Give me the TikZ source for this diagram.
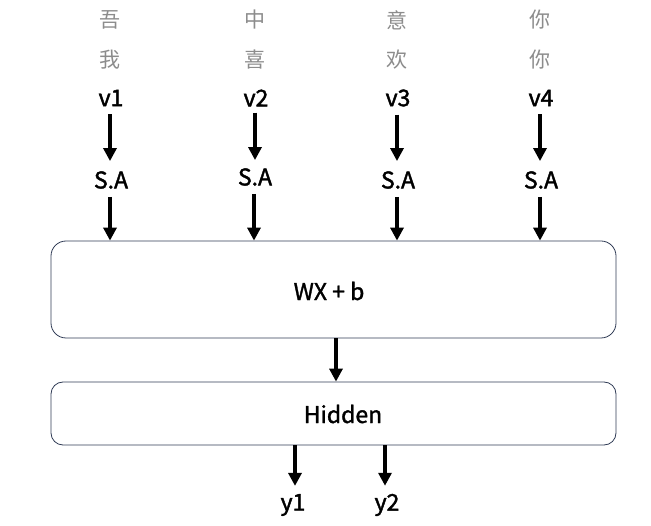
\documentclass[tikz,border=0pt]{standalone}
\usepackage{fontspec}
\setmainfont{Noto Sans CJK SC}
\newfontfamily\midfont[FakeBold=1.8]{Noto Sans CJK SC}
\newfontfamily\boxfont[FakeBold=1.4]{Noto Sans CJK SC}
\usetikzlibrary{arrows.meta}
\definecolor{boxline}{HTML}{2F3B55}
\definecolor{cngray}{HTML}{8C8C8C}
\tikzset{
  cn/.style={text=cngray, font=\fontsize{21}{23}\selectfont, inner sep=0pt},
  lbl/.style={font=\midfont\fontsize{23}{25}\selectfont, inner sep=0pt},
  boxtxt/.style={font=\boxfont\fontsize{23}{25}\selectfont, inner sep=0pt},
  arr/.style={line width=3.2pt, -{Triangle[width=13pt,length=13pt]}},
  rbox/.style={draw=boxline, line width=0.8pt, rounded corners=15pt, inner sep=0pt},
}
\begin{document}
\begin{tikzpicture}[x=1pt,y=-1pt]
\useasboundingbox (0,0) rectangle (651,526);
% Chinese characters
\node[cn] (c11) at (110,20) {吾};
\node[cn] (c12) at (110,60) {我};
\node[cn] (c21) at (255,20) {中};
\node[cn] (c22) at (255,60) {喜};
\node[cn] (c31) at (397,20) {意};
\node[cn] (c32) at (397,60) {欢};
\node[cn] (c41) at (540,20) {你};
\node[cn] (c42) at (540,60) {你};
% v labels
\node[lbl] (v1) at (111,98) {v1};
\node[lbl] (v2) at (256,98) {v2};
\node[lbl] (v3) at (398,98) {v3};
\node[lbl] (v4) at (541,98) {v4};
% S.A labels
\node[lbl] (s1) at (111,180) {S.A};
\node[lbl] (s2) at (255,177) {S.A};
\node[lbl] (s3) at (398,180) {S.A};
\node[lbl] (s4) at (541,180) {S.A};
% boxes
\node[rbox, minimum width=565pt, minimum height=97pt] (wx) at (333.5,289.5) {};
\node[boxtxt] (wxt) at (329,291) {WX + b};
\node[rbox, minimum width=565pt, minimum height=63pt, rounded corners=12pt] (hid) at (333.5,413.5) {};
\node[boxtxt] (hidt) at (343,414) {Hidden};
% outputs
\node[lbl] (y1) at (293,505) {y1};
\node[lbl] (y2) at (387,505) {y2};
% arrows v -> S.A
\draw[arr] ([yshift=-8pt]v1.south -| 110,0) -- ([yshift=10pt]s1.north -| 110,0);
\draw[arr] ([yshift=-6pt]v2.south -| 255,0) -- ([yshift=8pt]s2.north -| 255,0);
\draw[arr] ([yshift=-8pt]v3.south -| 397,0) -- ([yshift=10pt]s3.north -| 397,0);
\draw[arr] ([yshift=-8pt]v4.south -| 540,0) -- ([yshift=10pt]s4.north -| 540,0);
% arrows S.A -> box
\draw[arr] ([yshift=-8pt]s1.south -| 110,0) -- (wx.north -| 110,0);
\draw[arr] ([yshift=-8pt]s2.south -| 254,0) -- (wx.north -| 254,0);
\draw[arr] ([yshift=-8pt]s3.south -| 397,0) -- (wx.north -| 397,0);
\draw[arr] ([yshift=-8pt]s4.south -| 540,0) -- (wx.north -| 540,0);
% box -> hidden
\draw[arr] (wx.south -| 336,0) -- (hid.north -| 336,0);
% hidden -> outputs
\draw[arr] (hid.south -| 295,0) -- ([yshift=8pt]y1.north -| 295,0);
\draw[arr] (hid.south -| 385,0) -- ([yshift=8pt]y2.north -| 385,0);
\end{tikzpicture}
\end{document}
